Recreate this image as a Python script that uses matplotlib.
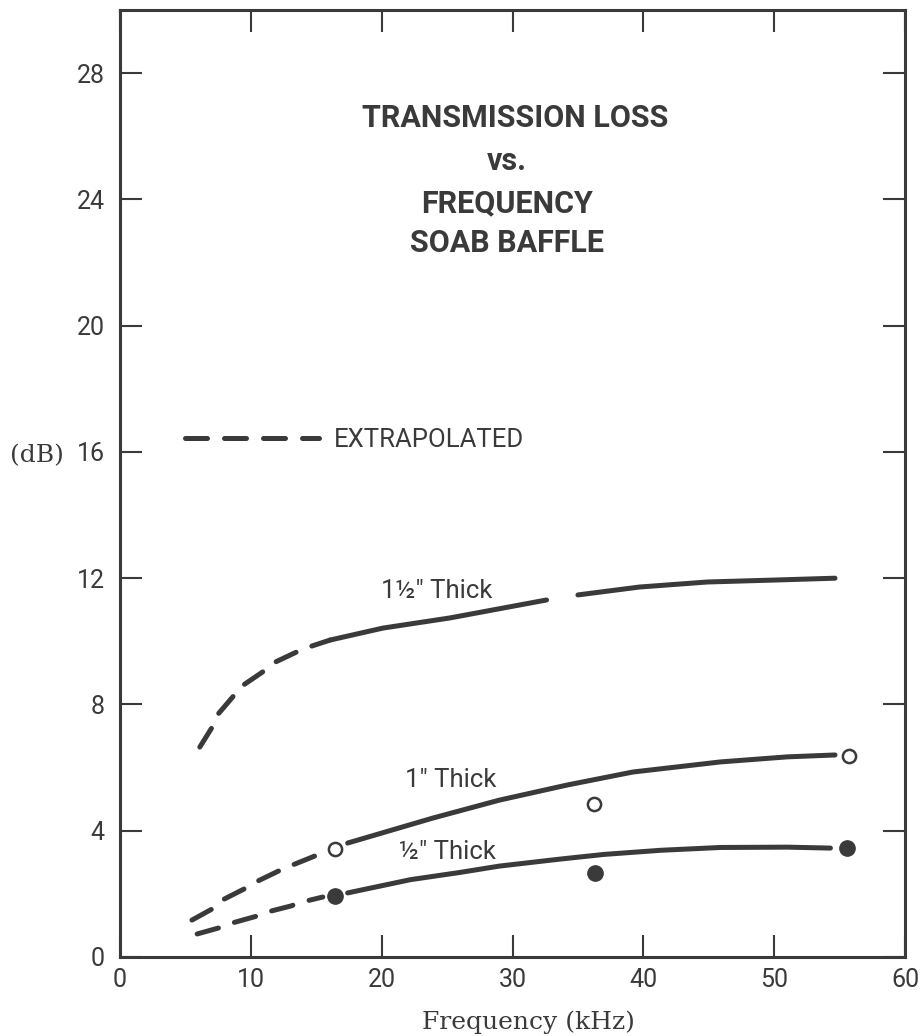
import matplotlib
matplotlib.use("Agg")
import matplotlib.pyplot as plt
from matplotlib.lines import Line2D

ink = '#3a3a3a'
sans = ['Roboto', 'DejaVu Sans']
serif = ['DejaVu Serif']

# 1 1/2" thick: extrapolated part, then two drawn pieces
th15_ext_x = [6.1, 7.0, 7.3, 8.6, 9.2, 10.9, 11.7, 14.0, 16.05]
th15_ext_y = [6.65, 7.25, 7.6, 8.23, 8.55, 9.03, 9.31, 9.76, 10.04]
th15_a_x = [16.05, 20.1, 25.2, 32.6]
th15_a_y = [10.04, 10.42, 10.74, 11.31]
th15_b_x = [35.0, 39.7, 44.9, 49.9, 54.65]
th15_b_y = [11.47, 11.72, 11.88, 11.94, 12.0]

# 1" thick
th1_ext_x = [5.5, 7.3, 7.8, 9.7, 10.2, 12.1, 12.8, 14.9, 16.4]
th1_ext_y = [1.17, 1.58, 1.8, 2.2, 2.34, 2.72, 2.85, 3.2, 3.42]
th1_x = [17.4, 23.9, 29.0, 34.2, 39.2, 45.9, 51.0, 54.65]
th1_y = [3.61, 4.40, 4.97, 5.45, 5.86, 6.18, 6.34, 6.40]
th1_pts_x = [16.4, 36.2, 55.7]
th1_pts_y = [3.42, 4.84, 6.36]

# 1/2" thick
th05_ext_x = [5.9, 7.8, 8.6, 10.5, 11.3, 13.1, 13.6, 15.5, 16.4]
th05_ext_y = [0.73, 0.95, 1.08, 1.30, 1.43, 1.62, 1.71, 1.90, 1.93]
th05_x = [17.4, 22.2, 26.0, 29.0, 33.6, 37.0, 41.3, 45.9, 51.0, 54.3]
th05_y = [2.03, 2.45, 2.68, 2.88, 3.1, 3.25, 3.38, 3.47, 3.48, 3.45]
th05_pts_x = [16.4, 36.3, 55.6]
th05_pts_y = [1.93, 2.66, 3.45]

xticks = [0, 10, 20, 30, 40, 50, 60]
yticks = [0, 4, 8, 12, 16, 20, 24, 28]

fig = plt.figure(figsize=(9.21, 10.36), dpi=100)
ax = fig.add_axes([120/921, 1 - 957/1036, 785/921, 947/1036])

lw = 3.6
dash = (0, (4.4, 3.4))
solid_kw = dict(color=ink, lw=lw, solid_capstyle='round', solid_joinstyle='round')
dash_kw = dict(color=ink, lw=lw, ls=dash, dash_capstyle='round', dash_joinstyle='round')

ax.plot(th15_ext_x, th15_ext_y, **dash_kw)
ax.plot(th15_a_x, th15_a_y, **solid_kw)
ax.plot(th15_b_x, th15_b_y, **solid_kw)

ax.plot(th1_ext_x[:-1], th1_ext_y[:-1], **dash_kw)
ax.plot(th1_x, th1_y, **solid_kw)

ax.plot(th05_ext_x[:-1], th05_ext_y[:-1], **dash_kw)
ax.plot(th05_x, th05_y, **solid_kw)

ax.plot(th1_pts_x, th1_pts_y, 'o', ms=9.5, mfc='white', mec=ink, mew=1.8, ls='none')
ax.plot(th05_pts_x, th05_pts_y, 'o', ms=11, mfc=ink, mec=ink, ls='none')

ax.set_xlim(0, 60)
ax.set_ylim(0, 30)
ax.set_xticks(xticks)
ax.set_yticks(yticks)
ax.tick_params(direction='in', length=16, width=1.5, color=ink,
               top=True, right=True, labelsize=18, labelcolor=ink)
ax.tick_params(axis='x', pad=8)
ax.tick_params(axis='y', pad=11)
for lab in ax.get_xticklabels() + ax.get_yticklabels():
    lab.set_family(sans)
for s in ax.spines.values():
    s.set_linewidth(2.2)
    s.set_color(ink)

ax.set_xlabel('Frequency (kHz)', family=serif, fontsize=18, color=ink, va='center')
ax.xaxis.set_label_coords(0.52, -0.069)
ax.set_ylabel('(dB)', family=serif, fontsize=18, color=ink, rotation=0,
              va='center', ha='center')
ax.yaxis.set_label_coords(-0.106, 0.529)

title_kw = dict(family=sans, fontsize=22, fontweight='bold', color=ink,
                ha='center', va='baseline')
ax.text(30.2, 26.29, 'TRANSMISSION LOSS', **title_kw)
ax.text(29.6, 24.93, 'vs.', **title_kw)
ax.text(29.6, 23.6, 'FREQUENCY', **title_kw)
ax.text(29.6, 22.33, 'SOAB BAFFLE', **title_kw)

lab_kw = dict(family=sans, fontsize=18.5, color=ink, ha='center', va='center')
ax.text(24.2, 11.59, '1½″ Thick', **lab_kw)
ax.text(25.3, 5.6, '1″ Thick', **lab_kw)
ax.text(25.0, 3.33, '½″ Thick', **lab_kw)

h = Line2D([], [], **dash_kw)
leg = ax.legend([h], ['EXTRAPOLATED'], loc='center left',
                bbox_to_anchor=(0.083, 0.546), frameon=False, borderpad=0,
                borderaxespad=0, handlelength=5.2, handletextpad=0.6,
                prop={'family': sans, 'size': 18.5})
for t in leg.get_texts():
    t.set_color(ink)

fig.savefig('out.png', dpi=100, facecolor='white')
